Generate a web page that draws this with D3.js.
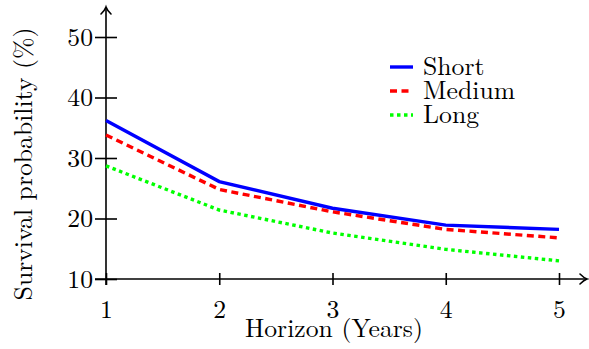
<!DOCTYPE html>
<html>
<head>
<meta charset="utf-8">
<script src="https://cdn.jsdelivr.net/npm/d3@7"></script>
<style>
  body { margin: 0; background: #fff; }
</style>
</head>
<body>
<div id="chart"></div>
<script>
// horizon in years and survival probability (%) per strategy
var horizons = [1, 2, 3, 4, 5];
var shortVals = [36.2, 26.1, 21.7, 18.9, 18.2];
var mediumVals = [33.8, 24.8, 21.1, 18.2, 16.8];
var longVals = [28.7, 21.4, 17.6, 14.9, 13.0];
var seriesNames = ["Short", "Medium", "Long"];
var yTicks = [10, 20, 30, 40, 50];

var width = 589, height = 349;
var texFont = "'Latin Modern Roman'";
var fontSize = "25.7px";

var svg = d3.select("#chart").append("svg")
  .attr("width", width)
  .attr("height", height);

var x = d3.scaleLinear().domain([1, 5]).range([106, 559]);
var y = d3.scaleLinear().domain([10, 50]).range([279, 37]);

function texText(sel) {
  sel.style("font-family", texFont).style("font-size", fontSize).style("fill", "#000");
}

// open arrow head, tex style
function arrowHead(px, py, angle) {
  svg.append("path")
    .attr("d", "M-7,-5 Q-3,-1 0,0 Q-3,1 -7,5")
    .attr("transform", "translate(" + px + "," + py + ") rotate(" + angle + ")")
    .attr("fill", "none")
    .attr("stroke", "#000")
    .attr("stroke-width", 1.6)
    .attr("stroke-linecap", "round");
}

// x axis
var xAxis = svg.append("g")
  .attr("transform", "translate(0," + y(10) + ")")
  .call(d3.axisBottom(x).tickValues(horizons).tickFormat(d3.format("d")).tickSize(0));
xAxis.select(".domain").remove();
xAxis.selectAll(".tick line").remove();
xAxis.selectAll(".tick").append("line")
  .attr("y1", -6).attr("y2", 6)
  .attr("stroke", "#000").attr("stroke-width", 1.6);
xAxis.selectAll(".tick text")
  .attr("y", 39).attr("dy", null)
  .call(texText);

svg.append("line")
  .attr("x1", 95).attr("x2", 586)
  .attr("y1", y(10)).attr("y2", y(10))
  .attr("stroke", "#000").attr("stroke-width", 1.6);
arrowHead(587, y(10), 0);

// y axis
var yAxis = svg.append("g")
  .attr("transform", "translate(" + x(1) + ",0)")
  .call(d3.axisLeft(y).tickValues(yTicks).tickSize(0));
yAxis.select(".domain").remove();
yAxis.selectAll(".tick line").remove();
yAxis.selectAll(".tick").append("line")
  .attr("x1", -11).attr("x2", 11)
  .attr("stroke", "#000").attr("stroke-width", 1.6);
yAxis.selectAll(".tick text")
  .attr("x", -13)
  .call(texText);

svg.append("line")
  .attr("x1", x(1)).attr("x2", x(1))
  .attr("y1", y(10) + 6).attr("y2", 8)
  .attr("stroke", "#000").attr("stroke-width", 1.6);
arrowHead(x(1), 7, -90);

// lines
var series = [
  { name: seriesNames[0], values: shortVals, color: "#0000ff", dash: null },
  { name: seriesNames[1], values: mediumVals, color: "#ff0000", dash: "7,4.5" },
  { name: seriesNames[2], values: longVals, color: "#00ff00", dash: "3.5,3.5" }
];

var line = d3.line()
  .x(function (d, i) { return x(horizons[i]); })
  .y(function (d) { return y(d); });

series.forEach(function (s) {
  svg.append("path")
    .datum(s.values)
    .attr("d", line)
    .attr("fill", "none")
    .attr("stroke", s.color)
    .attr("stroke-width", 3.4)
    .attr("stroke-dasharray", s.dash);
});

// legend
var legend = svg.append("g").attr("transform", "translate(390,67)");
series.forEach(function (s, i) {
  var row = legend.append("g").attr("transform", "translate(0," + i * 24 + ")");
  row.append("line")
    .attr("x1", 0).attr("x2", 23)
    .attr("stroke", s.color)
    .attr("stroke-width", 3.4)
    .attr("stroke-dasharray", s.dash);
  row.append("text")
    .attr("x", 33).attr("y", 8)
    .text(s.name)
    .call(texText);
});

// axis titles
svg.append("text")
  .attr("x", 334).attr("y", 337)
  .attr("text-anchor", "middle")
  .text("Horizon (Years)")
  .call(texText);

svg.append("text")
  .attr("transform", "translate(32,164) rotate(-90)")
  .attr("text-anchor", "middle")
  .text("Survival probability (%)")
  .call(texText);
</script>
</body>
</html>
